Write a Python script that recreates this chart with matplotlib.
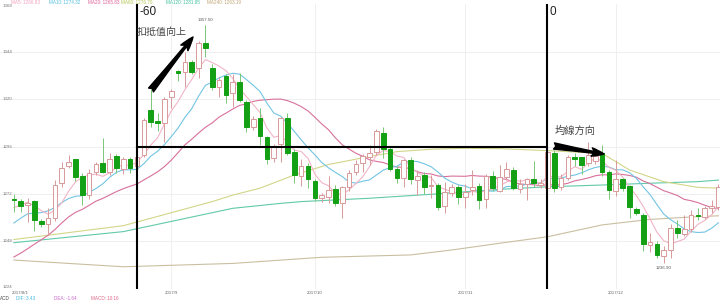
import matplotlib
matplotlib.use('Agg')
import matplotlib.pyplot as plt
import pandas as pd

plt.rcParams['font.family'] = ['Liberation Sans', 'Noto Sans CJK TC']

# 日线 OHLC, 2017/8/1 起
open_ = [1269.5, 1268.5, 1266.3, 1268.3, 1258.5, 1257, 1260, 1277.5, 1286.4, 1289.6,
         1281, 1271.5, 1283.3, 1287.6, 1283.3, 1291.3, 1284.6, 1290, 1286, 1292,
         1314.6, 1309, 1308.2, 1321, 1334.3, 1334, 1339, 1336, 1348.3, 1336,
         1326, 1331.8, 1323, 1329, 1318.8, 1306, 1310.4, 1300.7, 1290.5, 1297.4,
         1310.4, 1293.5, 1281.2, 1286.2, 1278.8, 1270, 1270.7, 1274.4, 1267.3, 1275.4,
         1283.3, 1287.6, 1291, 1293.5, 1303.1, 1294.7, 1284.6, 1280, 1289.3, 1279.1,
         1281.7, 1276.1, 1276.6, 1266, 1272.7, 1275.4, 1270.4, 1274, 1276.1, 1269.4,
         1281.2, 1273.7, 1280.5, 1284.2, 1274.4, 1277.1, 1279.5, 1276.6, 1275, 1293,
         1275.4, 1280, 1291, 1290.6, 1287.6, 1289, 1293, 1283.3, 1273.7, 1279.5,
         1276, 1264.3, 1261.4, 1246.2, 1246.7, 1240.7, 1243.7, 1254.7, 1251.8, 1254.2,
         1261.4, 1260.6, 1264.8, 1265.3]
high = [1272, 1269.5, 1270, 1269, 1259.5, 1265, 1279, 1288, 1292, 1290,
        1282.5, 1284.5, 1288.5, 1300.2, 1293, 1292.5, 1291, 1291, 1293, 1310.5,
        1325, 1313, 1321, 1325, 1335, 1344, 1340, 1349.5, 1357.5, 1338,
        1331.5, 1333, 1333, 1333.5, 1319.6, 1311.5, 1315.4, 1301.4, 1297.5, 1311.2,
        1313, 1294.7, 1290, 1287.6, 1279.5, 1272.7, 1281.3, 1276.6, 1276, 1284,
        1289.3, 1292.5, 1297, 1305, 1306.2, 1296.4, 1286, 1290, 1291, 1284.2,
        1283, 1281.7, 1277.5, 1278.3, 1277, 1276.6, 1277, 1284, 1277.5, 1282.2,
        1283.5, 1286.7, 1288.4, 1285.5, 1279.5, 1280, 1289, 1279.5, 1294.5, 1294.3,
        1282, 1292, 1293, 1291, 1298.5, 1295, 1297, 1284.2, 1289.3, 1280,
        1276.6, 1265.5, 1262.3, 1252.2, 1248, 1245.5, 1256.8, 1258.9, 1261.4, 1264,
        1264.8, 1266, 1269, 1277]
low = [1263, 1263, 1258, 1253.5, 1255.5, 1251.3, 1258.5, 1275.7, 1285, 1278.5,
       1266.5, 1269.5, 1281.6, 1282.5, 1281.5, 1282.5, 1282, 1282.5, 1284, 1291,
       1306, 1304, 1298.5, 1315.5, 1329.5, 1326, 1333, 1331, 1341.5, 1324.5,
       1321, 1318, 1316, 1318.5, 1303.6, 1304.6, 1296.8, 1287, 1288, 1288.4,
       1291.8, 1277.5, 1276, 1274.9, 1268.5, 1268.2, 1267.3, 1266, 1259.7, 1273.5,
       1281.7, 1283.3, 1286.7, 1292, 1290.1, 1283.8, 1277.5, 1275.7, 1277, 1271.5,
       1272, 1270, 1264, 1262.6, 1271, 1267, 1265, 1271.5, 1264.3, 1264.8,
       1273.5, 1273, 1279, 1274, 1272.6, 1269, 1275.4, 1275, 1274, 1273,
       1274, 1279, 1286, 1282, 1286, 1287, 1281, 1269.4, 1271, 1273.5,
       1259.7, 1261.5, 1243, 1242.8, 1239.5, 1236.9, 1239.5, 1249.6, 1251, 1253,
       1259, 1259.5, 1262.3, 1264]
close = [1269, 1266, 1267.3, 1258.9, 1257, 1260, 1276.5, 1285.4, 1288.3, 1280.8,
         1271.5, 1282.5, 1287.1, 1283, 1290, 1285, 1289.6, 1285, 1291, 1309.5,
         1308.7, 1308, 1320, 1324, 1333.5, 1339, 1333.6, 1348.6, 1345.8, 1326,
         1330, 1322.2, 1329, 1319.6, 1306, 1310, 1301.4, 1290, 1296.4, 1310.4,
         1293, 1281.7, 1286.2, 1279.5, 1270, 1271.5, 1274, 1267.3, 1275.4, 1282.8,
         1287.2, 1291.3, 1293, 1304.1, 1294.7, 1284.6, 1280, 1289.3, 1279.5, 1281.2,
         1275.7, 1276.6, 1265.6, 1273.2, 1275.4, 1270.4, 1273.2, 1275.4, 1269, 1281.2,
         1275, 1280.5, 1284.6, 1275, 1277.1, 1279.5, 1277.5, 1277.8, 1293.5, 1275,
         1280, 1291, 1290, 1286.7, 1292, 1291.5, 1283.3, 1274, 1279.5, 1275,
         1265.3, 1262.6, 1246.7, 1247.9, 1241.2, 1243.7, 1254.7, 1252.2, 1254.2, 1261.4,
         1260.9, 1264.8, 1266, 1275.7]

# 7月收盘, 只用来算开头几根的均线
july_close = [1227, 1223, 1212, 1213, 1214, 1219, 1218, 1228, 1234, 1241,
              1242, 1245, 1255, 1255, 1251, 1260, 1260, 1268, 1269]

# 长期均线
ma60_idx = [0, 16, 29, 32, 36, 41, 46, 52, 56, 61, 66, 71, 78, 86, 90, 95, 100, 103]
ma60_val = [1249, 1256, 1268.2, 1271.5, 1275, 1281.7, 1287, 1291, 1293.5, 1294.7,
            1295.2, 1295, 1294, 1292.6, 1284.2, 1278.3, 1275.4, 1275]
ma120_idx = [0, 16, 32, 39, 42, 52, 61, 71, 78, 86, 93, 100, 103]
ma120_val = [1247.4, 1253, 1264.8, 1267.3, 1268.2, 1269.9, 1271.9, 1274.4, 1275.7,
             1276.6, 1277.5, 1278.3, 1279.1]
ma240_idx = [0, 16, 32, 45, 58, 64, 71, 78, 86, 93, 100, 103]
ma240_val = [1238.6, 1235.2, 1236.9, 1240, 1241.2, 1243.7, 1247.1, 1250.4, 1256.4,
             1259.2, 1260.6, 1261]

tick_pos = [0, 23, 44, 66, 88]
tick_labels = ['2017/8/1', '2017/9', '2017/10', '2017/11', '2017/12']
y_ticks = [1224, 1248, 1272, 1296, 1320, 1344, 1368]

up_col = '#d99a9a'
down_col = '#14a014'
down_wick = '#79c779'

fig = plt.figure(figsize=(7.2, 3.02), dpi=100)
ax = fig.add_axes([0, 0.0434, 1, 0.9417])
ax.set_xlim(-2.03, 103.23)
ax.set_ylim(1224, 1368)
for s in ax.spines.values():
    s.set_visible(False)
ax.set_xticks([])
ax.set_yticks([])

# 网格
for v in y_ticks[1:-1]:
    ax.axhline(v, color='#ededed', lw=0.6, zorder=0)
for p in tick_pos[1:]:
    ax.axvline(p, color='#ededed', lw=0.6, zorder=0)

# 均线
s = pd.Series(july_close + close)
n0 = len(july_close)
x = list(range(len(close)))
ma5 = s.rolling(5).mean().iloc[n0:].values
ma10 = s.rolling(10).mean().iloc[n0:].values
ma20 = s.rolling(20).mean().iloc[n0:].values
ax.plot(ma240_idx, ma240_val, color='#c9bfa0', lw=0.8, zorder=1)
ax.plot(ma120_idx, ma120_val, color='#62c9aa', lw=0.8, zorder=1)
ax.plot(ma60_idx, ma60_val, color='#d2d688', lw=0.8, zorder=1)
ax.plot(x, ma20, color='#d8709c', lw=0.8, zorder=1)
ax.plot(x, ma10, color='#72c5e2', lw=0.8, zorder=1)
ax.plot(x, ma5, color='#f1b5c6', lw=0.8, zorder=1)

# K线
for i in x:
    o, h, l, c = open_[i], high[i], low[i], close[i]
    up = c >= o
    ax.vlines(i, l, h, color=up_col if up else down_wick, lw=0.7, zorder=2)
    ax.bar(i, max(abs(c - o), 0.35), bottom=min(o, c), width=0.68,
           facecolor='white' if up else down_col,
           edgecolor=up_col if up else down_col, lw=0.7, zorder=3)

# 坐标文字
ytr = ax.get_yaxis_transform()
for v in y_ticks:
    va = 'top' if v == 1368 else ('bottom' if v == 1224 else 'center')
    ax.text(3 / 720, v, str(v), transform=ytr, fontsize=3.2,
            color='#777777', va=va, ha='left')

for p, lab in zip(tick_pos, tick_labels):
    ax.text(p if p else 1, -0.0155, lab, transform=ax.get_xaxis_transform(),
            fontsize=3.2, color='#666666', ha='center', va='center')

# 最高 / 最低
ax.text(28, 1357.5 + 1.5, '1357.50', fontsize=3.2, color='#555555', ha='center', va='bottom')
ax.text(95, 1236.9 - 1.5, '1236.90', fontsize=3.2, color='#555555', ha='center', va='top')

# 标注线
ax.axvline(18, color='black', lw=1.5, zorder=5)
ax.axvline(78, color='black', lw=1.5, zorder=5)
ax.plot([18, 78], [1295.6, 1295.6], color='black', lw=1.5, zorder=5)


def px(xp, yp):
    return xp / 720, 1 - yp / 302


fig.text(*px(139, 12), '-60', fontsize=8.5, color='#222222', va='center', ha='left')
fig.text(*px(549, 12), '0', fontsize=8.5, color='#222222', va='center', ha='left')
fig.text(*px(137, 32), '扣抵值向上', fontsize=7.2, color='#444444', va='center', ha='left')
fig.text(*px(555, 131), '均線方向', fontsize=7.4, color='#444444', va='center', ha='left')

ax.annotate('', xy=(193, 302 - 37), xytext=(151, 302 - 90), xycoords='figure pixels',
            arrowprops=dict(arrowstyle='fancy,head_length=1.0,head_width=0.65,tail_width=0.45',
                            color='black', shrinkA=0, shrinkB=0))
ax.annotate('', xy=(604, 302 - 154), xytext=(554, 302 - 146), xycoords='figure pixels',
            arrowprops=dict(arrowstyle='fancy,head_length=0.9,head_width=0.6,tail_width=0.45',
                            color='black', shrinkA=0, shrinkB=0))

# 顶部均线数值
legend = [(11, 'MA5: 1266.83', '#f2a0c0'), (49, 'MA10: 1274.32', '#55bde0'),
          (88, 'MA20: 1265.83', '#e0609a'), (121, 'MA60: 1276.70', '#b4c450'),
          (166, 'MA120: 1281.95', '#40c09c'), (207, 'MA240: 1263.19', '#c0a474')]
for xp, txt, col in legend:
    fig.text(*px(xp, 2.5), txt, fontsize=3.3, color=col, va='center', ha='left')

bottom = [(0, 'ACD', '#444444'), (16, 'DIF: 3.43', '#40b8e0'),
          (54, 'DEA: -1.64', '#cc66cc'), (91, 'MACD: 10.16', '#dd6688')]
for xp, txt, col in bottom:
    fig.text(*px(xp, 298), txt, fontsize=3.3, color=col, va='center', ha='left')

fig.savefig('out.png', dpi=100)
